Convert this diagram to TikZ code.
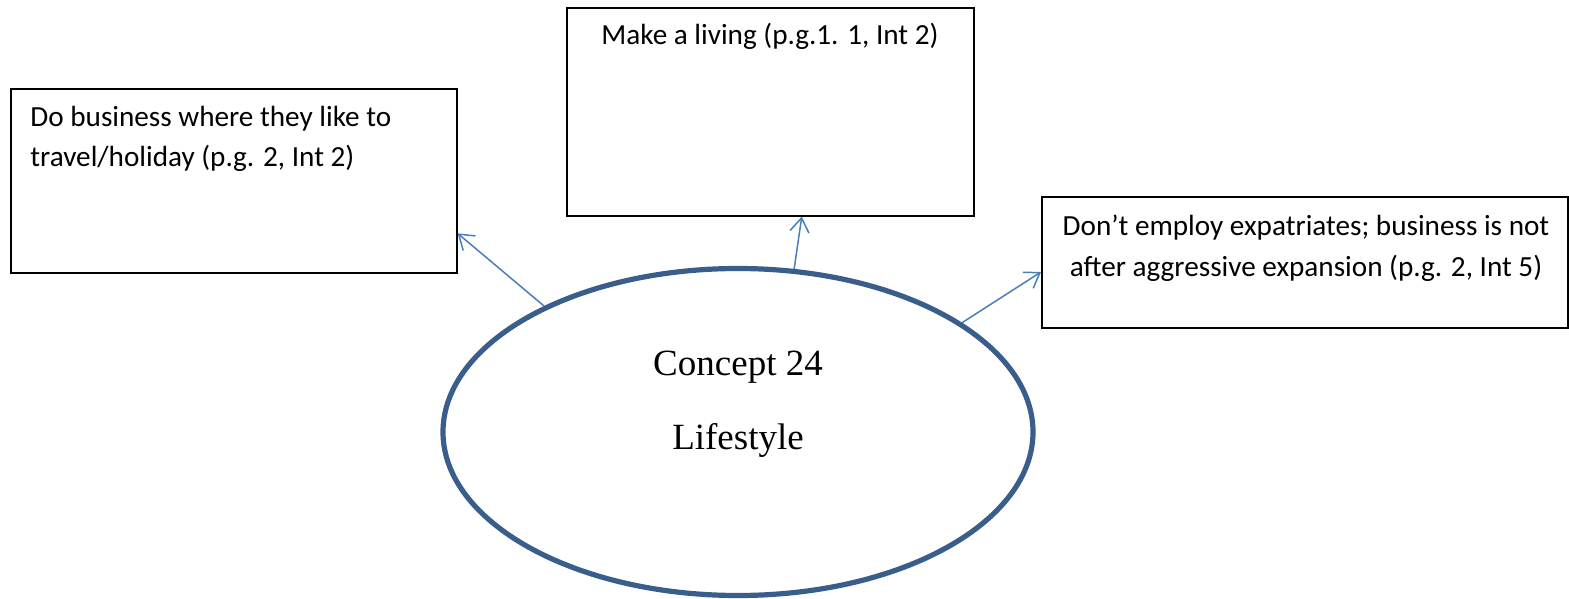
\documentclass[tikz,border=0pt]{standalone}
\usepackage{fontspec}
\setmainfont{Liberation Serif}
\newfontfamily\boxfont{Carlito}
\usetikzlibrary{shapes.geometric,arrows.meta,calc}
\definecolor{ringblue}{RGB}{58,94,140}
\definecolor{linkblue}{RGB}{74,126,187}
\begin{document}
\begin{tikzpicture}[x=0.5pt,y=-0.5pt,
  notebox/.style={draw=black,line width=0.8pt,inner sep=0pt,anchor=north west},
  notetext/.style={inner sep=0pt,font=\boxfont\fontsize{14.6}{20.5}\selectfont},
  concept/.style={ellipse,draw=ringblue,line width=2.6pt,inner sep=0pt,
    minimum width=295pt,minimum height=163.5pt},
  conceptText/.style={inner sep=0pt,font=\fontsize{18.5}{37}\selectfont,align=center},
  link/.style={draw=linkblue,line width=0.75pt,-{Straight Barb[length=7pt,width=9.5pt]}}]
\useasboundingbox (0,0) rectangle (1569,599);

% boxes
\node[notebox,minimum width=223pt,minimum height=92pt] (b1) at (10,88) {};
\node[notebox,minimum width=203.5pt,minimum height=104pt] (b2) at (566,7) {};
\node[notebox,minimum width=263pt,minimum height=65.5pt] (b3) at (1041,196) {};

% box texts (base anchor sits on the last line)
\node[notetext,anchor=base west,align=left] (t1) at (30,167)
  {Do business where they like to\\travel/holiday (p.g. 2, Int 2)};
\node[notetext,anchor=base] (t2) at (770,45) {Make a living (p.g.1. 1, Int 2)};
\node[notetext,anchor=base,align=center] (t3) at (1306,276)
  {Don’t employ expatriates; business is not\\after aggressive expansion (p.g. 2, Int 5)};

% central concept
\node[concept] (c) at (738,432) {};
\node[conceptText,anchor=base] (ct) at (738,449) {Concept 24\\Lifestyle};

% connectors
\draw[link] (c.147.7) -- ($(b1.south east)!0.217!(b1.north east)$);
\draw[link] (c.71.1) -- ($(b2.south west)!0.577!(b2.south east)$);
\draw[link] (c.26.5) -- ($(b3.south west)!0.427!(b3.north west)$);
\end{tikzpicture}
\end{document}
